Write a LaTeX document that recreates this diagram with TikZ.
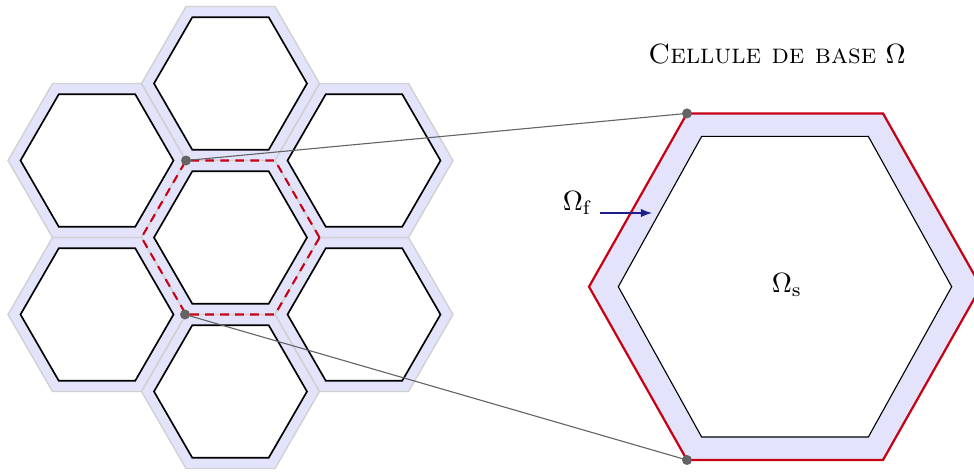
\documentclass[tikz,border=0pt]{standalone}
\usepackage{amsmath, amssymb}
\usepackage{xcolor}
\usepackage{tikz}
\usetikzlibrary{arrows, calc}
\definecolor{lavande}{RGB}{227, 228, 251}
\definecolor{bordrouge}{RGB}{200, 0, 20}
\definecolor{flechebleue}{RGB}{30, 30, 140}
\definecolor{liengris}{RGB}{100, 100, 100}
% hexagone : centre x, centre y, rayon, apotheme
\newcommand{\hexagone}[4]{(#1+#3,#2) -- (#1+#3/2,#2-#4) -- (#1-#3/2,#2-#4)
  -- (#1-#3,#2) -- (#1-#3/2,#2+#4) -- (#1+#3/2,#2+#4) -- cycle}

\begin{document}
\begin{tikzpicture}[x=0.36pt, y=-0.36pt]
  \useasboundingbox (0,0) rectangle (974,471);
  % nid d'abeilles
  \foreach \cx/\cy in {230.5/237.5, 230.5/83.5, 230.5/391.5,
                       97/160.5, 97/314.5, 364/160.5, 364/314.5}
    \fill[lavande] \hexagone{\cx}{\cy}{89}{77};
  \foreach \cx/\cy in {230.5/237.5, 230.5/83.5, 230.5/391.5,
                       97/160.5, 97/314.5, 364/160.5, 364/314.5} {
    \draw[black!18, line width=0.5pt] \hexagone{\cx}{\cy}{89}{77};
    \fill[white] \hexagone{\cx}{\cy}{76.5}{66.2};
    \draw[black, semithick] \hexagone{\cx}{\cy}{76.5}{66.2};
  }
  \draw[bordrouge, line width=0.75pt, dash pattern=on 3.1pt off 2.3pt] \hexagone{230.5}{237.5}{89}{77};
  % cellule de base
  \fill[lavande] \hexagone{785}{286.7}{196}{173.3};
  \fill[white] \hexagone{785}{286.7}{166.7}{150.3};
  \draw[black, thin] \hexagone{785}{286.7}{166.7}{150.3};
  \draw[bordrouge, thick] \hexagone{785}{286.7}{196}{173.3};
  \coordinate (petitHaut) at (186,160.5);
  \coordinate (petitBas) at (185,314.5);
  \coordinate (grandHaut) at (687,113.4);
  \coordinate (grandBas) at (687,460);
  \draw[liengris, line width=0.4pt] (petitHaut) -- (grandHaut);
  \draw[liengris, line width=0.4pt] (petitBas) -- (grandBas);
  \foreach \p in {petitHaut, petitBas, grandHaut, grandBas}
    \fill[liengris] (\p) circle (5);
  \node (titre) at (777,54) {\textsc{Cellule de base} $\Omega$};
  \node (solide) at (787,285) {$\Omega_{\mathrm{s}}$};
  \node[anchor=east, inner sep=1pt] (fluide) at (596,203) {$\Omega_{\mathrm{f}}$};
  \coordinate (cible) at (652,213);
  \draw[flechebleue, -latex] (600,213) -- (cible);
\end{tikzpicture}
\end{document}
